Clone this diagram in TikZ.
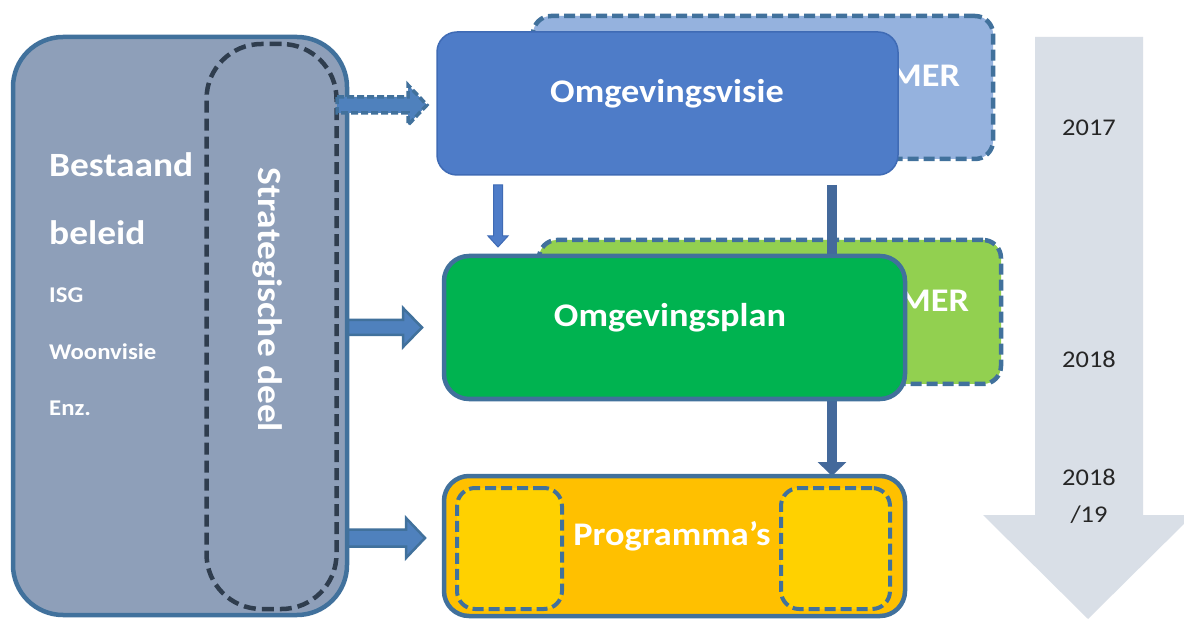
\documentclass[tikz,border=0pt]{standalone}
\usepackage{fontspec}
\setmainfont{Carlito}[FakeStretch=1.1]
\usetikzlibrary{calc,arrows.meta}
\definecolor{leftfill}{HTML}{8E9FB9}
\definecolor{edgeblue}{HTML}{41719C}
\definecolor{pilldash}{HTML}{2F3D4E}
\definecolor{visfill}{HTML}{4E7CC8}
\definecolor{visedge}{HTML}{3F6BB5}
\definecolor{merblue}{HTML}{95B2DE}
\definecolor{planfill}{HTML}{00B350}
\definecolor{mergreen}{HTML}{92D050}
\definecolor{progfill}{HTML}{FFC000}
\definecolor{innerfill}{HTML}{FFD100}
\definecolor{arrowfill}{HTML}{4F81BD}
\definecolor{connblue}{HTML}{44699B}
\definecolor{timefill}{HTML}{D9DFE7}
\definecolor{yeartext}{HTML}{262626}
\tikzset{
  boxshape/.style={rectangle, inner sep=0pt, outer sep=0pt},
  mainbox/.style={boxshape, draw=edgeblue, line width=4.5pt, rounded corners=25pt},
  merbox/.style={boxshape, draw=edgeblue, line width=4.5pt, dash pattern=on 11pt off 5pt, rounded corners=18pt, fill=#1},
  innerbox/.style={boxshape, draw=edgeblue, line width=4pt, dash pattern=on 11pt off 5pt, rounded corners=18pt, fill=innerfill},
  blockarrow/.style={fill=arrowfill, draw=edgeblue, line width=2.5pt, line join=miter},
  dasharrow/.style={blockarrow, line width=3.5pt, dash pattern=on 7pt off 3pt},
  bigtext/.style={text=white, font=\bfseries\fontsize{33}{36}\selectfont, inner sep=0pt, anchor=base},
  lefttext/.style={text=white, font=\bfseries\fontsize{34}{38}\selectfont, inner sep=0pt, anchor=base west},
  smalltext/.style={text=white, font=\bfseries\fontsize{22.5}{26}\selectfont, inner sep=0pt, anchor=base west},
  yeartxt/.style={text=yeartext, font=\fontsize{24}{28}\selectfont, inner sep=0pt, anchor=base},
  conn/.style={draw=connblue, line width=10pt, -{Triangle[length=14pt,width=28pt]}}
}
\begin{document}
\begin{tikzpicture}[x=1pt,y=-1pt]
\useasboundingbox (0,0) rectangle (1184,620);
\clip (0,0) rectangle (1184,620);
\fill[white] (0,0) rectangle (1184,620);

% time arrow
\fill[timefill] (1035,37) -- (1143,37) -- (1143,515) -- (1193,515) -- (1088,619) -- (983,515) -- (1035,515) -- cycle;
\node[yeartxt] (y1) at (1089,136) {2017};
\node[yeartxt] (y2) at (1089,368) {2018};
\node[yeartxt] (y3) at (1089,485) {2018};
\node[yeartxt] (y4) at (1089,522) {/19};

% left block
\node[boxshape, draw=edgeblue, fill=leftfill, line width=4.5pt, rounded corners=50pt,
      minimum width=334pt, minimum height=578pt] (L) at (180,326) {};
\node[boxshape, draw=pilldash, line width=4.5pt, dash pattern=on 12pt off 6pt, rounded corners=55pt,
      minimum width=130pt, minimum height=565pt] (S) at (271.5,326.5) {};
\node[text=white, font=\bfseries\fontsize{34}{36}\selectfont, inner sep=0pt, rotate=-90] (st) at (268,300) {Strategische deel};
\node[lefttext] (b1) at (49,177) {Bestaand};
\node[lefttext] (b2) at (49,245) {beleid};
\node[smalltext] (b3) at (49,303) {ISG};
\node[smalltext] (b4) at (49,360) {Woonvisie};
\node[smalltext] (b5) at (49,415) {Enz.};

% MER boxes (behind)
\node[merbox=merblue, minimum width=460pt, minimum height=143pt] (M1) at (763,87.5) {};
\node[bigtext] (m1) at (925,87) {MER};
\node[merbox=mergreen, minimum width=462pt, minimum height=144pt] (M2) at (770,312) {};
\node[bigtext] (m2) at (934,312) {MER};

% Omgevingsvisie
\node[boxshape, fill=visfill, draw=visedge, line width=1.5pt, rounded corners=20pt,
      minimum width=461pt, minimum height=143pt] (V) at (667.5,103.5) {};
\node[bigtext] (vt) at (667,103) {Omgevingsvisie};

% thick connector visie -> programma's (under omgevingsplan)
\coordinate (c1) at ($(V.south east)+(-66,10)$);
\path (674.5,476) coordinate (Rtop);
\draw[conn] (c1) -- (c1 |- Rtop);

\node[mainbox, fill=planfill, minimum width=461pt, minimum height=143pt] (P) at (674.5,327.5) {};
\node[bigtext] (pt) at (670,327) {Omgevingsplan};

\node[mainbox, fill=progfill, minimum width=461pt, minimum height=140pt] (R) at (674.5,546) {};
\node[innerbox, minimum width=105pt, minimum height=121pt] (I1) at (509.5,548.5) {};
\node[innerbox, minimum width=109pt, minimum height=121pt] (I2) at (835.5,548.5) {};
\node[bigtext] (rt) at (672,545) {Programma’s};

% thin arrow visie -> plan
\coordinate (t1) at ($(V.south west)+(61,10)$);
\draw[fill=visfill, draw=visedge, line width=1pt, line join=miter]
  ($(t1)+(-4.5,0)$) -- ++(9,0) -- ++(0,51) -- ++(5.5,0) -- ++(-10,11) -- ++(-10,-11) -- ++(5.5,0) -- cycle;

% block arrows from left block
\coordinate (a1) at ($(L.east |- V.west)+(-10,1.5)$);
\draw[dasharrow] ($(a1)+(0,-8)$) -- ++(71,0) -- ++(0,-12) -- ++(19,20) -- ++(-19,20) -- ++(0,-12) -- ++(-71,0) -- cycle;
\coordinate (a2) at ($(L.east |- P.west)+(1,0)$);
\draw[blockarrow] ($(a2)+(0,-7.5)$) -- ++(55,0) -- ++(0,-12) -- ++(19,19.5) -- ++(-19,19.5) -- ++(0,-12) -- ++(-55,0) -- cycle;
\coordinate (a3) at ($(L.east |- R.west)+(1,-8)$);
\draw[blockarrow] ($(a3)+(0,-8.5)$) -- ++(58,0) -- ++(0,-11.5) -- ++(19,20) -- ++(-19,20) -- ++(0,-11.5) -- ++(-58,0) -- cycle;
\end{tikzpicture}
\end{document}
